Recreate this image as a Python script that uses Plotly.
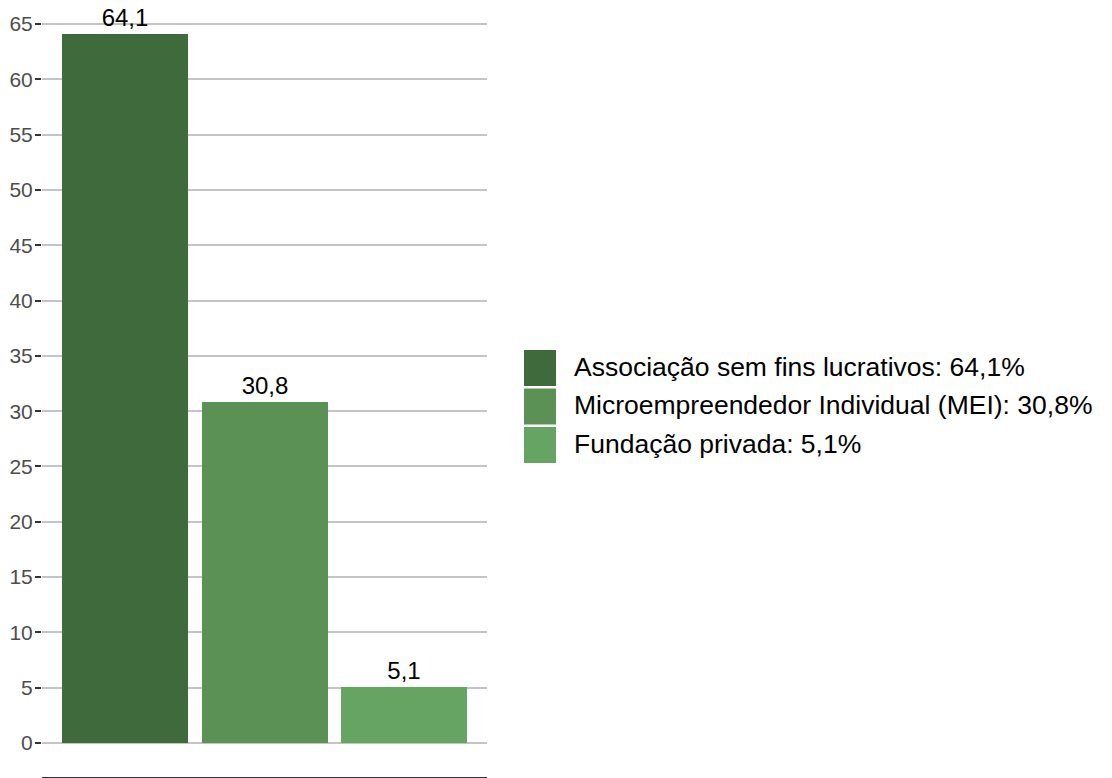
import plotly.graph_objects as go

categories = ["Associação sem fins lucrativos", "Microempreendedor Individual (MEI)", "Fundação privada"]
values = [64.1, 30.8, 5.1]
colors = ["#3f6a3b", "#5c9156", "#66a463"]
y_ticks = list(range(0, 70, 5))

W, H = 1112, 778
ML, MR, MT, MB = 42, 625, 0, 1
PW, PH = W - ML - MR, H - MT - MB

def px_x(x):
    return (x - ML) / PW

def px_y(y):
    return 1 - (y - MT) / PH

FONT = "Liberation Sans"

fig = go.Figure()
fig.add_trace(go.Bar(
    x=categories, y=values, width=0.906,
    marker=dict(color=colors, line=dict(width=0)),
    texttemplate="%{y:.1f}", textposition="outside",
    textfont=dict(family=FONT, size=24, color="#000000"),
    cliponaxis=False, showlegend=False,
))

# legend drawn as swatches + labels
sw_x0, sw_w, sw_y0, sw_h, step = 524, 32, 350, 36, 38.5
for i, (c, v, col) in enumerate(zip(categories, values, colors)):
    y0 = sw_y0 + i * step
    fig.add_shape(type="rect", xref="paper", yref="paper",
                  x0=px_x(sw_x0), x1=px_x(sw_x0 + sw_w),
                  y0=px_y(y0), y1=px_y(y0 + sw_h),
                  fillcolor=col, line=dict(width=0))
    label = f"{c}: {v:.1f}%".replace(".", ",")
    fig.add_annotation(xref="paper", yref="paper", x=px_x(572), y=px_y(y0 + sw_h / 2 - 1.5),
                       text=label, showarrow=False, xanchor="left", yanchor="middle",
                       font=dict(family=FONT, size=26.5, color="#000000"))

fig.update_layout(
    width=W, height=H,
    margin=dict(l=ML, r=MR, t=MT, b=MB),
    plot_bgcolor="white", paper_bgcolor="white",
    separators=",.",
    bargap=0,
    font=dict(family=FONT),
    xaxis=dict(range=[-0.6, 2.6], showticklabels=False, ticks="", showgrid=False,
               showline=True, linecolor="#333333", linewidth=1.5, zeroline=False, fixedrange=True),
    yaxis=dict(range=[-3.074, 67.17], tickvals=y_ticks, ticktext=[str(t) for t in y_ticks],
               showgrid=True, gridcolor="#c4c4c4", gridwidth=1.5, zeroline=False,
               ticks="outside", ticklen=6, tickwidth=2, tickcolor="#333333",
               ticklabelstandoff=-2,
               tickfont=dict(family=FONT, size=21, color="#4d4d4d"), showline=False),
)

fig.write_html("out.html")
